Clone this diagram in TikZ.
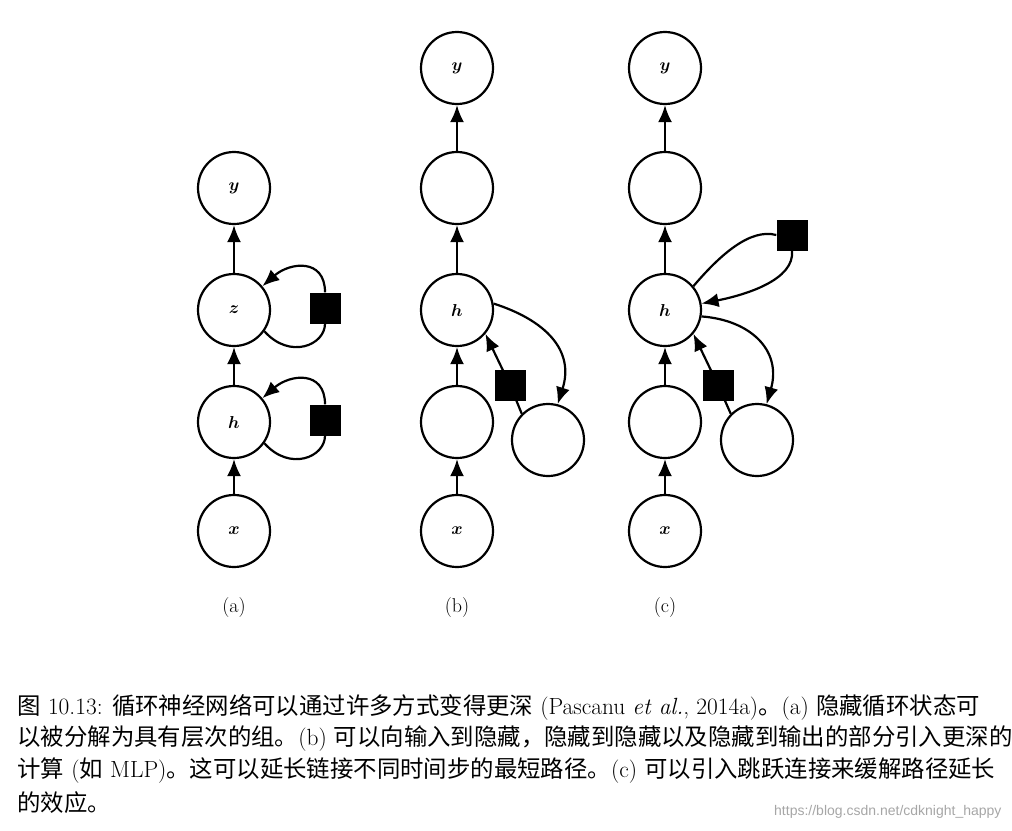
\documentclass[tikz,border=0pt]{standalone}
\usepackage{fontspec}
\usepackage{bm}
\newfontfamily\cjk{Noto Sans CJK SC}
\newfontfamily\urlfont{Liberation Sans}
\usetikzlibrary{arrows.meta}
\begin{document}
\begin{tikzpicture}[x=1pt,y=-1pt,
  nd/.style={circle,draw,line width=2.2pt,minimum size=72pt,inner sep=0pt,font=\fontsize{19}{19}\selectfont},
  sq/.style={rectangle,fill=black,minimum size=31pt,inner sep=0pt},
  ar/.style={line width=2.2pt,-{Latex[length=17pt,width=14pt]}},
  ln/.style={line width=2.2pt},
  lab/.style={font=\fontsize{20}{20}\selectfont},
  captext/.style={anchor=west,font=\fontsize{23.4}{26}\selectfont}]
\useasboundingbox (0,0) rectangle (1012,830);
% (a)
\node[nd] (ay) at (234,188) {$\bm{y}$};
\node[nd] (az) at (234,310) {$\bm{z}$};
\node[nd] (ah) at (234,422) {$\bm{h}$};
\node[nd] (ax) at (234,531) {$\bm{x}$};
\node[sq] (as1) at (325,308) {};
\node[sq] (as2) at (325,420) {};
\draw[ar] (ax) -- (ah);
\draw[ar] (ah) -- (az);
\draw[ar] (az) -- (ay);
\draw[ln] (az.-35) .. controls (290,360) and (325,345) .. (as1.south);
\draw[ar] (as1.north) .. controls (325,258) and (290,262) .. (az.40);
\draw[ln] (ah.-35) .. controls (290,472) and (325,457) .. (as2.south);
\draw[ar] (as2.north) .. controls (325,370) and (290,374) .. (ah.40);
\node[lab] (capa) at (234,608) {(a)};
% (b)
\node[nd] (by) at (457,68) {$\bm{y}$};
\node[nd] (bu) at (457,188) {};
\node[nd] (bh) at (457,310) {$\bm{h}$};
\node[nd] (bl) at (457,422) {};
\node[nd] (bx) at (457,531) {$\bm{x}$};
\node[nd] (be) at (548,440) {};
\node[sq] (bs) at (510,385) {};
\draw[ar] (bx) -- (bl);
\draw[ar] (bl) -- (bh);
\draw[ar] (bh) -- (bu);
\draw[ar] (bu) -- (by);
\draw[ar] (bh.10) .. controls (545,320) and (575,350) .. (be.75);
\draw[ln] (be.135) -- (bs.center);
\draw[ar] (bs.center) -- (bh.-40);
\node[lab] (capb) at (457,608) {(b)};
% (c)
\node[nd] (cy) at (665,68) {$\bm{y}$};
\node[nd] (cu) at (665,188) {};
\node[nd] (ch) at (665,310) {$\bm{h}$};
\node[nd] (cl) at (665,422) {};
\node[nd] (cx) at (665,531) {$\bm{x}$};
\node[nd] (ce) at (757,440) {};
\node[sq] (cs) at (718,385) {};
\node[sq] (ct) at (792,235) {};
\draw[ar] (cx) -- (cl);
\draw[ar] (cl) -- (ch);
\draw[ar] (ch) -- (cu);
\draw[ar] (cu) -- (cy);
\draw[ar] (ch.-10) .. controls (750,320) and (782,350) .. (ce.75);
\draw[ln] (ce.135) -- (cs.center);
\draw[ar] (cs.center) -- (ch.-40);
\draw[ln] (ch.40) .. controls (720,255) and (750,228) .. (ct.west);
\draw[ar] (ct.south) .. controls (795,280) and (745,295) .. (ch.10);
\node[lab] (capc) at (665,608) {(c)};
% caption
\node[captext] (l1) at (14,707) {{\cjk 图} 10.13: {\cjk 循环神经网络可以通过许多方式变得更深} (Pascanu \textit{et al.}, 2014a){\cjk 。}(a) {\cjk 隐藏循环状态可}};
\node[captext] (l2) at (14,739) {{\cjk 以被分解为具有层次的组。}(b) {\cjk 可以向输入到隐藏，隐藏到隐藏以及隐藏到输出的部分引入更深的}};
\node[captext] (l3) at (14,771) {{\cjk 计算} ({\cjk 如} MLP){\cjk 。这可以延长链接不同时间步的最短路径。}(c) {\cjk 可以引入跳跃连接来缓解路径延长}};
\node[captext] (l4) at (14,803) {{\cjk 的效应。}};
\node[anchor=east,text=gray!70,font=\urlfont\fontsize{14}{14}\selectfont] (url) at (1005,812) {https://blog.csdn.net/cdknight\_happy};
\end{tikzpicture}
\end{document}
